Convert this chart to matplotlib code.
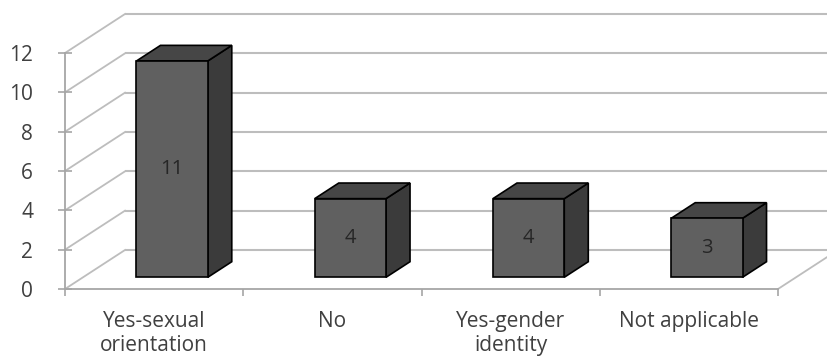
import matplotlib
matplotlib.use("Agg")
import matplotlib.pyplot as plt
from matplotlib.patches import Polygon

categories = ["Yes-sexual\norientation", "No", "Yes-gender\nidentity", "Not applicable"]
counts = [11, 4, 4, 3]
y_ticks = [0, 2, 4, 6, 8, 10, 12]

FONT = ["Open Sans", "DejaVu Sans"]
GRID = "#bdbdbd"
AXIS = "#a6a6a6"
FRONT = "#606060"
SIDE = "#3b3b3b"
TOP = "#464646"

fig = plt.figure(figsize=(8.28, 3.58), dpi=100)
W, H = 828, 358
x0, x1 = 65, 778
y0, y1 = 289, 53
ax = fig.add_axes([x0 / W, (H - y0) / H, (x1 - x0) / W, (y0 - y1) / H])
ax.set_xlim(0, len(categories))
ax.set_ylim(0, 12)
for s in ax.spines.values():
    s.set_visible(False)

# depth of the floor / walls expressed in data units of the front plane
px_x = (x1 - x0) / len(categories)
px_y = (y0 - y1) / 12
DX = 60 / px_x
DY = 39 / px_y
n = len(categories)

# back wall gridlines and left wall diagonals
for v in y_ticks:
    ax.plot([DX, n + DX + 0.5], [v + DY, v + DY], color=GRID, lw=1.5,
            clip_on=False, zorder=1, solid_capstyle="butt")
    ax.plot([0, DX], [v, v + DY], color=GRID, lw=1.3, clip_on=False, zorder=1)

# floor right edge
ax.plot([n, n + DX], [0, DY], color=GRID, lw=1.3, clip_on=False, zorder=1)

# front axes lines
ax.plot([0, 0], [0, 12], color=AXIS, lw=1.3, clip_on=False, zorder=2)
ax.plot([0, n], [0, 0], color=AXIS, lw=1.3, clip_on=False, zorder=2)

# bars as boxes between depth 0.3 and 0.7
d0, d1 = 0.3, 0.7
bw = 0.40
for i, v in enumerate(counts):
    cx = i + 0.5
    xl, xr = cx - bw / 2, cx + bw / 2
    ox0, oy0 = d0 * DX, d0 * DY
    ox1, oy1 = d1 * DX, d1 * DY
    front = [(xl + ox0, oy0), (xr + ox0, oy0), (xr + ox0, v + oy0), (xl + ox0, v + oy0)]
    side = [(xr + ox0, oy0), (xr + ox1, oy1), (xr + ox1, v + oy1), (xr + ox0, v + oy0)]
    top = [(xl + ox0, v + oy0), (xr + ox0, v + oy0), (xr + ox1, v + oy1), (xl + ox1, v + oy1)]
    for pts, col in ((side, SIDE), (top, TOP), (front, FRONT)):
        ax.add_patch(Polygon(pts, closed=True, facecolor=col, edgecolor="black",
                             lw=1.2, joinstyle="miter", clip_on=False, zorder=3))
    ax.text(cx + ox0, v / 2 + oy0, str(v), ha="center", va="center",
            fontsize=14.5, color="#262626", family=FONT, zorder=4)

# ticks
ax.set_yticks(y_ticks)
ax.set_yticklabels([str(t) for t in y_ticks], family=FONT, fontsize=15, color="#404040")
ax.tick_params(axis="y", direction="inout", length=10, width=1.2, color=AXIS, pad=18)
ax.set_xticks(range(n + 1))
ax.set_xticklabels([""] * (n + 1))
ax.tick_params(axis="x", direction="out", length=5, width=1.2, color=AXIS)
ax.set_xticks([i + 0.5 for i in range(n)], minor=True)
ax.set_xticklabels(categories, minor=True, family=FONT, fontsize=15,
                   color="#404040", linespacing=1.15)
ax.tick_params(axis="x", which="minor", length=0, pad=16)

fig.savefig("out.png", dpi=100, facecolor="white")
